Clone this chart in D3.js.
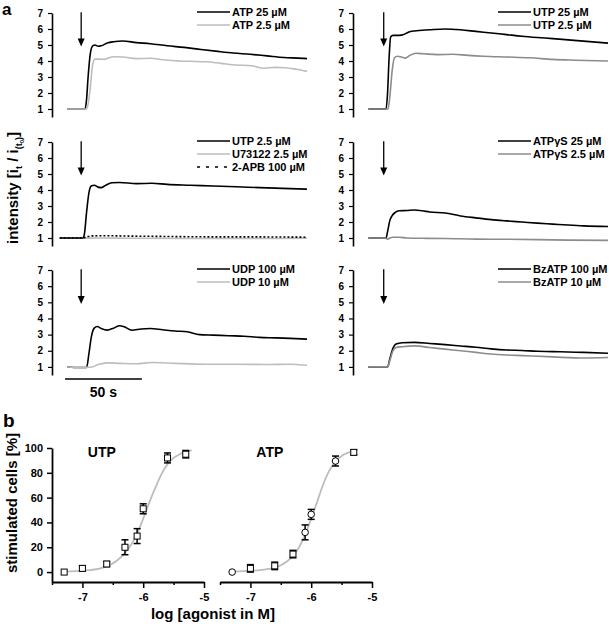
<!DOCTYPE html>
<html>
<head>
<meta charset="utf-8">
<script src="https://cdn.jsdelivr.net/npm/d3@7/dist/d3.min.js"></script>
<style>
  body { margin: 0; background: #fff; }
  svg text { font-family: "Liberation Sans", Arial, sans-serif; font-weight: bold; }
</style>
</head>
<body>
<svg id="fig" width="609" height="624"></svg>
<script>
// ---- panel a traces: [time s, i_t / i_t0] ----
const atp25 = [[0,1],[11.5,1],[12.5,1.6],[13.5,3],[15,4.5],[16.5,4.95],[18,5.0],[20,4.92],[22,4.95],[26,5.12],[30,5.2],[36,5.25],[45,5.15],[54,5.08],[65,4.95],[76,4.85],[87,4.72],[98,4.6],[108,4.5],[119,4.42],[130,4.32],[141,4.22],[150,4.18],[156,4.15]];
const atp2_5 = [[0,1],[12.5,1],[13.5,1.3],[15,2.4],[16.5,3.8],[18,4.12],[21,4.12],[24,4.1],[27,4.2],[30,4.27],[36,4.25],[45,4.15],[54,4.17],[62,4.08],[70,4.02],[80,3.98],[90,3.95],[100,3.85],[110,3.75],[120,3.7],[128,3.55],[135,3.6],[142,3.58],[149,3.48],[156,3.35]];
const utp25 = [[0,1],[11.5,1],[12.5,2],[13.5,4.2],[14.5,5.5],[16,5.6],[20,5.6],[23,5.65],[26,5.8],[30,5.88],[40,5.95],[50,6.0],[60,5.95],[70,5.85],[80,5.75],[90,5.65],[100,5.55],[110,5.47],[120,5.4],[130,5.32],[140,5.24],[156,5.12]];
const utp2_5 = [[0,1],[12.8,1],[14,1.8],[15.5,3.4],[17,4.2],[19,4.3],[21.5,4.25],[24,4.18],[27,4.35],[31,4.48],[36,4.45],[45,4.4],[55,4.42],[65,4.35],[75,4.3],[90,4.25],[105,4.2],[120,4.1],[135,4.05],[156,4.0]];
const utpInh = [[-5,1],[10,1],[11,1.2],[12.5,2.6],[14,3.8],[15.5,4.25],[17.5,4.3],[20,4.18],[22,4.15],[25,4.3],[29,4.45],[34,4.47],[45,4.4],[55,4.42],[65,4.35],[80,4.3],[95,4.25],[110,4.2],[125,4.15],[140,4.1],[156,4.05]];
const u73122 = [[-5,1],[10,0.98],[20,1],[40,0.98],[80,0.97],[120,0.97],[156,0.98]];
const apb = [[-5,1],[10,1],[13,1.08],[16,1.13],[25,1.14],[40,1.12],[60,1.1],[80,1.08],[100,1.07],[120,1.07],[140,1.06],[156,1.05]];
const atpgs25 = [[0,1],[11.5,1],[12.5,1.4],[14,2.1],[15.5,2.4],[17.5,2.6],[20,2.7],[25,2.72],[30,2.75],[35,2.7],[40,2.63],[50,2.56],[60,2.38],[70,2.26],[80,2.15],[90,2.07],[100,2.0],[110,1.93],[120,1.87],[130,1.81],[140,1.76],[156,1.72]];
const atpgs2_5 = [[0,1],[11,1],[12.5,0.93],[14,1.0],[16,1.05],[20,1.05],[25,1.0],[35,0.98],[50,0.97],[70,0.93],[90,0.92],[110,0.9],[130,0.87],[156,0.85]];
const udp100 = [[0,1],[8,0.96],[12.5,0.96],[14,1.8],[15.5,2.8],[17.5,3.4],[19.5,3.5],[22,3.38],[26,3.28],[30,3.4],[34,3.55],[37,3.48],[42,3.27],[48,3.35],[54,3.38],[62,3.3],[70,3.22],[78,3.18],[86,3.0],[95,2.97],[105,2.93],[115,2.9],[125,2.83],[135,2.8],[145,2.77],[156,2.72]];
const udp10 = [[0,1],[10,0.97],[16,1.0],[20,1.15],[26,1.25],[35,1.22],[45,1.2],[55,1.27],[70,1.22],[90,1.17],[110,1.17],[130,1.15],[145,1.17],[156,1.1]];
const bz100 = [[0,1],[12.5,1],[14,1.5],[16,2.15],[18,2.42],[22,2.5],[30,2.52],[40,2.45],[50,2.38],[60,2.3],[70,2.22],[80,2.12],[90,2.05],[100,2.02],[110,1.97],[120,1.95],[130,1.92],[140,1.9],[156,1.85]];
const bz10 = [[0,1],[12.5,1],[14,1.4],[16,2.0],[18,2.2],[22,2.25],[30,2.3],[40,2.2],[50,2.1],[60,2.0],[70,1.9],[80,1.8],[90,1.74],[100,1.7],[120,1.62],[140,1.55],[156,1.58]];
const yTicksA = [1, 2, 3, 4, 5, 6, 7];

// ---- panel b dose response ----
const doseLog = [-7.3, -7.0, -6.6, -6.3, -6.1, -6.0, -5.6, -5.3];
const utpPct = [0, 3, 6.5, 20, 29, 51, 92, 95];
const utpErr = [0, 2, 2, 6, 6, 4, 4, 3];
const atpPct = [0, 3, 5, 14.5, 32, 46.5, 89.5, 96.5];
const atpErr = [0, 3, 3, 3, 6, 4, 4, 2];
const atpMarker = ["circle", "square", "square", "square", "circle", "circle", "circle", "square"];
const utpFit = [[-7.3,0.5],[-7.1,0.8],[-6.9,1.5],[-6.7,3],[-6.5,7],[-6.4,10.5],[-6.3,15.5],[-6.2,22],[-6.1,31],[-6.0,43],[-5.9,56],[-5.8,68],[-5.7,79],[-5.6,87],[-5.5,92],[-5.4,95],[-5.3,97],[-5.2,98]];
const atpFit = [[-7.3,0.5],[-7.1,0.8],[-6.9,1.3],[-6.7,2.5],[-6.5,5.5],[-6.4,8.5],[-6.3,13],[-6.2,20],[-6.1,30],[-6.0,43],[-5.9,57],[-5.8,71],[-5.7,82],[-5.6,89],[-5.5,93.5],[-5.4,96],[-5.3,97]];
const xTicksB = [-7, -6, -5];
const xMinorB = [-7.5, -6.5, -5.5];
const yTicksB = [0, 20, 40, 60, 80, 100];

const black = "#000", light = "#bdbdbd", mid = "#8c8c8c";

const svg = d3.select("#fig");

// panel layout: axis x position, row tops/bottoms
const cols = [52, 353];
const rows = [{top: 13, bot: 117}, {top: 142, bot: 246}, {top: 270, bot: 375}];

const panels = [
  {col: 0, row: 0, arrow: 9, series: [
    {d: atp25, c: black, label: "ATP 25 \u00b5M"},
    {d: atp2_5, c: light, label: "ATP 2.5 \u00b5M"}]},
  {col: 1, row: 0, arrow: 10, series: [
    {d: utp25, c: black, label: "UTP 25 \u00b5M"},
    {d: utp2_5, c: mid, label: "UTP 2.5 \u00b5M"}]},
  {col: 0, row: 1, arrow: 9, series: [
    {d: u73122, c: light, label: "U73122 2.5 \u00b5M", order: 1},
    {d: apb, c: black, dash: "2,2", label: "2-APB 100 \u00b5M", order: 2},
    {d: utpInh, c: black, label: "UTP 2.5 \u00b5M", order: 0}]},
  {col: 1, row: 1, arrow: 10, series: [
    {d: atpgs25, c: black, label: "ATP\u03b3S 25 \u00b5M"},
    {d: atpgs2_5, c: mid, label: "ATP\u03b3S 2.5 \u00b5M"}]},
  {col: 0, row: 2, arrow: 9, series: [
    {d: udp100, c: black, label: "UDP 100 \u00b5M"},
    {d: udp10, c: light, label: "UDP 10 \u00b5M"}]},
  {col: 1, row: 2, arrow: 10, series: [
    {d: bz100, c: black, label: "BzATP 100 \u00b5M"},
    {d: bz10, c: mid, label: "BzATP 10 \u00b5M"}]}
];

panels.forEach(function(p) {
  const x0 = cols[p.col];
  const r = rows[p.row];
  const x = d3.scaleLinear().domain([-10, 156]).range([x0, x0 + 255]);
  const y = d3.scaleLinear().domain([0.5, 7]).range([r.bot, r.top]);
  const g = svg.append("g");

  const ax = g.append("g")
      .attr("transform", "translate(" + x0 + ",0)")
      .call(d3.axisLeft(y).tickValues(yTicksA).tickFormat(d3.format("d"))
          .tickSize(4).tickSizeOuter(0).tickPadding(5));
  ax.select(".domain").attr("stroke-width", 1.6);
  ax.selectAll(".tick line").attr("stroke-width", 1.2);
  ax.selectAll("text").attr("font-size", 10).attr("font-family", null);

  const line = d3.line()
      .x(d => x(d[0]))
      .y(d => y(d[1]))
      .curve(d3.curveMonotoneX);

  p.series.forEach(function(s) {
    g.append("path")
        .datum(s.d)
        .attr("d", line)
        .attr("fill", "none")
        .attr("stroke", s.c)
        .attr("stroke-width", 1.6)
        .attr("stroke-dasharray", s.dash || null);
  });

  // arrow marking agonist application
  const axp = x(p.arrow), ay0 = y(7.05), ay1 = y(4.9);
  g.append("line")
      .attr("x1", axp).attr("x2", axp)
      .attr("y1", ay0).attr("y2", ay1 - 6)
      .attr("stroke", black).attr("stroke-width", 1.3);
  g.append("path")
      .attr("d", "M" + (axp - 3.5) + "," + (ay1 - 8) + "L" + (axp + 3.5) + "," + (ay1 - 8) + "L" + axp + "," + ay1 + "Z")
      .attr("fill", black);

  // legend
  const lx = x0 + 145;
  const legendOrder = p.series.slice().sort((a, b) => (a.order || 0) - (b.order || 0));
  legendOrder.forEach(function(s, i) {
    const ly = r.top - 1 + i * 13;
    g.append("line")
        .attr("x1", lx).attr("x2", lx + 33)
        .attr("y1", ly).attr("y2", ly)
        .attr("stroke", s.c).attr("stroke-width", 1.6)
        .attr("stroke-dasharray", s.dash ? "3,6" : null);
    g.append("text")
        .attr("x", lx + 35).attr("y", ly + 4)
        .attr("font-size", 11)
        .text(s.label);
  });
});

// scale bar 50 s (bottom-left panel)
const xBar = d3.scaleLinear().domain([-10, 156]).range([cols[0], cols[0] + 255]);
svg.append("line")
    .attr("x1", xBar(-1.5)).attr("x2", xBar(48.5))
    .attr("y1", 379).attr("y2", 379)
    .attr("stroke", black).attr("stroke-width", 1.6);
svg.append("text")
    .attr("x", (xBar(-1.5) + xBar(48.5)) / 2).attr("y", 397)
    .attr("text-anchor", "middle").attr("font-size", 14)
    .text("50 s");

// y label panel a
const ylab = svg.append("text")
    .attr("transform", "translate(18,188) rotate(-90)")
    .attr("text-anchor", "middle")
    .attr("font-size", 15);
ylab.append("tspan").text("intensity [i");
ylab.append("tspan").attr("dy", 4).attr("font-size", 9).text("t");
ylab.append("tspan").attr("dy", -4).text(" / i");
ylab.append("tspan").attr("dy", 4).attr("font-size", 9).text("(t");
ylab.append("tspan").attr("dy", 2).attr("font-size", 6).text("0");
ylab.append("tspan").attr("dy", -2).attr("font-size", 9).text(")");
ylab.append("tspan").attr("dy", -4).text("]");

svg.append("text").attr("x", 2).attr("y", 15).attr("font-size", 17).text("a");
svg.append("text").attr("x", 3).attr("y", 427).attr("font-size", 19).text("b");

// ---- panel b ----
const yB = d3.scaleLinear().domain([-8, 100]).range([582, 448]);
const bPlots = [
  {x0: 52, pct: utpPct, err: utpErr, fit: utpFit, name: "UTP", markers: doseLog.map(() => "square"), yAxis: true},
  {x0: 220, pct: atpPct, err: atpErr, fit: atpFit, name: "ATP", markers: atpMarker, yAxis: false}
];

bPlots.forEach(function(b) {
  const x = d3.scaleLinear().domain([-7.5, -5]).range([b.x0, b.x0 + 152]);
  const g = svg.append("g");

  const xa = g.append("g")
      .attr("transform", "translate(0,582)")
      .call(d3.axisBottom(x).tickValues(xTicksB).tickSize(6).tickSizeOuter(0).tickPadding(5)
          .tickFormat(d => String(d)));
  xa.select(".domain").attr("stroke-width", 1.8);
  xa.selectAll(".tick line").attr("stroke-width", 1.5);
  xa.selectAll("text").attr("font-size", 11).attr("font-family", null);

  g.append("g")
      .attr("transform", "translate(0,582)")
      .call(d3.axisBottom(x).tickValues(xMinorB).tickSize(3).tickFormat(""))
      .call(s => s.select(".domain").remove())
      .selectAll("line").attr("stroke-width", 1.5);

  if (b.yAxis) {
    const ya = g.append("g")
        .attr("transform", "translate(" + b.x0 + ",0)")
        .call(d3.axisLeft(yB).tickValues(yTicksB).tickSize(5).tickSizeOuter(0).tickPadding(4));
    ya.select(".domain").attr("stroke-width", 1.8);
    ya.selectAll(".tick line").attr("stroke-width", 1.5);
    ya.selectAll("text").attr("font-size", 11).attr("font-family", null);
  }

  g.append("path")
      .datum(b.fit)
      .attr("d", d3.line().x(d => x(d[0])).y(d => yB(d[1])).curve(d3.curveMonotoneX))
      .attr("fill", "none").attr("stroke", light).attr("stroke-width", 1.8);

  doseLog.forEach(function(lx, i) {
    const cx = x(lx), cy = yB(b.pct[i]);
    if (b.err[i] > 0) {
      const yt = yB(b.pct[i] + b.err[i]), yb = yB(b.pct[i] - b.err[i]);
      g.append("line").attr("x1", cx).attr("x2", cx).attr("y1", yt).attr("y2", yb)
          .attr("stroke", black).attr("stroke-width", 1.5);
      [yt, yb].forEach(yy => g.append("line")
          .attr("x1", cx - 3.5).attr("x2", cx + 3.5).attr("y1", yy).attr("y2", yy)
          .attr("stroke", black).attr("stroke-width", 1.5));
    }
    if (b.markers[i] === "circle") {
      g.append("circle").attr("cx", cx).attr("cy", cy).attr("r", 3.3)
          .attr("fill", "#fff").attr("stroke", black).attr("stroke-width", 1);
    } else {
      g.append("rect").attr("x", cx - 3).attr("y", cy - 3).attr("width", 6).attr("height", 6)
          .attr("fill", "#fff").attr("stroke", black).attr("stroke-width", 1);
    }
  });

  g.append("text")
      .attr("x", x(-6.68)).attr("y", 457)
      .attr("text-anchor", "middle").attr("font-size", 14)
      .text(b.name);
});

svg.append("text")
    .attr("transform", "translate(17,503) rotate(-90)")
    .attr("text-anchor", "middle").attr("font-size", 15)
    .text("stimulated cells [%]");

svg.append("text")
    .attr("x", 213).attr("y", 619)
    .attr("text-anchor", "middle").attr("font-size", 15)
    .text("log [agonist in M]");
</script>
</body>
</html>
